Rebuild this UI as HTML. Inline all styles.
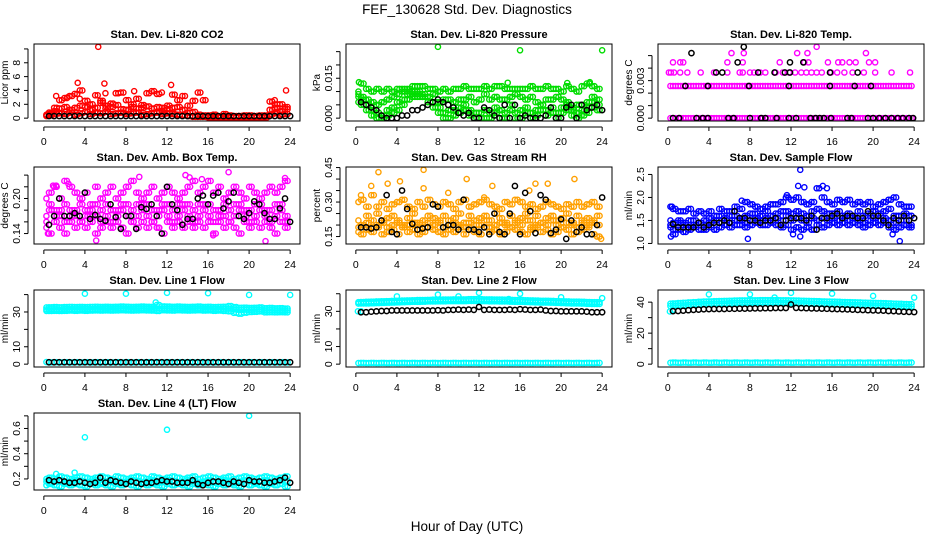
<!DOCTYPE html>
<html><head><meta charset="utf-8"><style>
html,body{margin:0;padding:0;background:#fff;}
svg{display:block;font-family:"Liberation Sans",Arial,sans-serif;}
</style></head><body>
<svg id="chart" width="936" height="540" viewBox="0 0 936 540">
<text x="467" y="14" text-anchor="middle" font-size="13.5">FEF_130628  Std. Dev. Diagnostics</text>
<text x="467" y="531" text-anchor="middle" font-size="13.5">Hour of Day (UTC)</text>
</svg>
<script>
// ---------- DATA ----------
const xTicks=[0,4,8,12,16,20,24];
const xTickLabels=["0","4","8","12","16","20","24"];
// CO2 (ppm)
const co2Hi=[0.5,0.8,1.5,2.6,2.9,3.2,3.5,4.0,2.5,2.0,3.3,2.5,1.8,2.1,3.6,3.7,2.6,2.0,2.8,1.9,3.6,3.9,3.5,1.5,1.8,3.4,2.6,3.2,1.8,2.5,3.7,2.6,0.4,0.5,0.3,0.6,0.4,0.3,0.3,0.4,0.4,0.3,0.4,0.4,2.4,2.0,2.0,1.6];
const co2Mid=[0.4,0.6,1.0,1.4,1.6,1.2,1.5,1.8,1.6,1.2,1.5,2.2,1.4,1.6,1.9,1.3,1.2,1.6,1.4,1.5,1.7,1.4,1.6,1.1,1.3,1.5,1.6,1.2,0.8,0.9,0.5,0.4,0.2,0.3,0.2,0.3,0.2,0.2,0.3,0.2,0.2,0.3,0.2,0.3,1.2,1.5,1.0,1.3];
const co2Lo=[0.3,0.4,0.6,0.7,0.6,0.8,0.5,0.7,0.9,0.6,0.8,0.7,0.9,0.6,0.7,0.8,0.6,0.7,0.8,0.5,0.6,0.7,0.8,0.6,0.7,0.6,0.5,0.4,0.3,0.2,0.2,0.2,0.1,0.1,0.1,0.1,0.1,0.1,0.1,0.1,0.1,0.1,0.1,0.1,0.5,0.7,0.5,0.6];
const co2OutX=[5.3,3.3,5.9,12.4,23.6,1.2,2.3,8.8,11.5,3.5,6.0,22.5];
const co2OutY=[10.3,5.1,5.0,4.8,4.0,3.2,3.0,3.9,3.7,2.8,3.6,2.6];
const co2Black=[0.3,0.3,0.3,0.3,0.3,0.3,0.3,0.3,0.3,0.3,0.3,0.3,0.3,0.3,0.3,0.3,0.3,0.3,0.3,0.3,0.3,0.3,0.3,0.3,0.3,0.3,0.3,0.3,0.3,0.3,0.3,0.3,0.3,0.3,0.3,0.3,0.3,0.3,0.3,0.3,0.3,0.3,0.3,0.3,0.3,0.3,0.3,0.3];
// Pressure (x0.001 kPa)
const prHi=[10,13,11,10,11,10,11,10,11,11,11,12,12,12,11,11,10,11,10,11,11,12,11,11,11,12,11,12,12,11,11,11,11,11,12,11,11,12,11,11,10,12,11,10,12,13,12,11];
const prMid=[8,8,7,6,5,6,7,8,9,10,10,9,8,8,8,9,6,7,7,6,7,7,8,6,7,9,7,8,7,7,8,9,8,7,8,6,5,7,7,8,7,6,4,5,5,6,8,7];
const prLo=[6,5,3,1,0,0,1,2,3,5,7,8,9,8,6,4,2,0,0,1,2,3,1,0,0,0,0,2,0,0,3,0,0,2,0,1,3,1,2,0,2,3,1,0,1,2,4,3];
const prLo2=[9,7,5,3,2,1,3,4,6,7,9,10,10,9,8,6,4,2,3,3,4,5,3,2,2,3,2,4,3,2,5,2,3,4,2,3,5,3,4,2,4,5,3,2,3,4,6,5];
const prOutX=[8,16,24,0.3,14.8,20.6,22.8];
const prOutY=[26.8,25.5,25.5,13.5,13.3,13.2,13.5];
const prBlack=[6,5,4,3,1,0,0,0,1,1,3,3,4,5,6,7,6,5,4,2,1,2,0,0,4,3,1,0,5,0,5,0,1,0,0,0,1,4,0,0,4,5,0,5,3,4,5,3];
// Li-820 temperature (x0.001 C)
const tpBase=[0,0,0,0,0,0,0,0,0,0,0,0,0,0,0,0,0,0,0,0,0,0,0,0,0,0,0,0,0,0,0,0,0,0,0,0,0,0,0,0,0,0,0,0,0,0,0,0];
const tpMidLine=[2.57,2.57,2.57,2.57,2.57,2.57,2.57,2.57,2.57,2.57,2.57,2.57,2.57,2.57,2.57,2.57,2.57,2.57,2.57,2.57,2.57,2.57,2.57,2.57,2.57,2.57,2.57,2.57,2.57,2.57,2.57,2.57,2.57,2.57,2.57,2.57,2.57,2.57,2.57,2.57,2.57,2.57,2.57,2.57,2.57,2.57,2.57,2.57];
const tpMagX=[0.1,0.3,0.6,1.2,1.9,3.2,4.5,5.8,7.0,7.3,8.0,8.4,9.0,9.5,10.5,11.2,11.8,12.4,13.0,13.5,14.0,14.5,15.0,15.9,16.5,17.2,18.0,19.1,20.2,21.8,23.6,0.5,1.2,1.5,5.8,7.3,10.9,13.3,13.7,15.6,16.6,17.0,17.7,18.3,19.6,20.2,6.2,7.4,12.6,13.6,19.3,14.5];
const tpMagY=[3.65,3.65,3.65,3.65,3.65,3.65,3.65,3.65,3.65,3.65,3.65,3.65,3.65,3.65,3.65,3.65,3.65,3.65,3.65,3.65,3.65,3.65,3.65,3.65,3.65,3.65,3.65,3.65,3.65,3.65,3.65,4.46,4.46,4.46,4.46,4.46,4.46,4.46,4.46,4.46,4.46,4.46,4.46,4.46,4.46,4.46,5.2,5.2,5.2,5.2,5.2,5.7];
const tpBlkX=[0.5,1.1,2.8,3.4,3.9,5.9,6.4,8.0,9.1,9.5,10.6,11.8,12.5,13.9,14.4,14.8,15.2,15.9,17.5,17.9,19.5,20.0,20.6,21.2,21.8,22.4,22.9,23.5,23.9,1.7,3.9,7.9,11.8,15.8,18.2,19.8,4.7,5.3,8.8,10.4,11.4,11.9,15.8,18.5,6.8,11.9,13.2,2.3,7.4];
const tpBlkY=[0,0,0,0,0,0,0,0,0,0,0,0,0,0,0,0,0,0,0,0,0,0,0,0,0,0,0,0,0,2.57,2.57,2.57,2.57,2.57,2.57,2.57,3.65,3.65,3.65,3.65,3.65,3.65,3.65,3.65,4.46,4.46,4.46,5.2,5.7];
// Amb box temp
const btHi=[0.20,0.21,0.22,0.20,0.23,0.22,0.21,0.20,0.21,0.19,0.22,0.20,0.21,0.22,0.20,0.21,0.22,0.23,0.21,0.20,0.21,0.22,0.20,0.21,0.22,0.21,0.20,0.21,0.22,0.23,0.21,0.22,0.23,0.21,0.22,0.20,0.21,0.22,0.21,0.20,0.22,0.21,0.20,0.21,0.22,0.21,0.22,0.23];
const btMid=[0.17,0.18,0.17,0.18,0.19,0.17,0.18,0.19,0.17,0.18,0.17,0.18,0.19,0.18,0.17,0.18,0.19,0.18,0.19,0.18,0.19,0.18,0.17,0.18,0.19,0.18,0.19,0.18,0.19,0.18,0.19,0.18,0.19,0.18,0.17,0.19,0.18,0.19,0.18,0.17,0.18,0.19,0.18,0.17,0.18,0.19,0.18,0.17];
const btLo=[0.15,0.14,0.16,0.15,0.14,0.16,0.15,0.16,0.15,0.16,0.14,0.15,0.16,0.15,0.16,0.15,0.14,0.16,0.15,0.16,0.15,0.16,0.15,0.14,0.16,0.15,0.16,0.15,0.16,0.15,0.16,0.15,0.16,0.14,0.16,0.15,0.16,0.15,0.14,0.16,0.15,0.16,0.15,0.16,0.15,0.14,0.16,0.15];
const btMid2=[0.16,0.19,0.18,0.17,0.16,0.18,0.17,0.16,0.18,0.17,0.19,0.16,0.17,0.16,0.18,0.19,0.17,0.16,0.17,0.19,0.17,0.16,0.18,0.19,0.17,0.16,0.17,0.19,0.17,0.16,0.17,0.19,0.17,0.16,0.18,0.17,0.16,0.17,0.19,0.18,0.16,0.17,0.19,0.18,0.16,0.17,0.19,0.16];
const btOutX=[5.1,21.6,13.8,18.0,23.5,14.2,1.2,0.9,9.3,15.4,2.4,0.4,16.5,11.2];
const btOutY=[0.128,0.127,0.240,0.245,0.235,0.236,0.222,0.222,0.237,0.233,0.225,0.140,0.137,0.150];
const btBlack=[0.155,0.17,0.20,0.17,0.17,0.175,0.17,0.21,0.165,0.172,0.165,0.162,0.19,0.168,0.148,0.17,0.17,0.148,0.185,0.182,0.19,0.17,0.14,0.22,0.19,0.18,0.155,0.165,0.165,0.20,0.205,0.19,0.205,0.21,0.183,0.195,0.21,0.17,0.165,0.175,0.195,0.19,0.175,0.165,0.165,0.183,0.20,0.16];
// Gas stream RH
const rhHi=[0.30,0.31,0.28,0.33,0.28,0.30,0.27,0.29,0.30,0.31,0.28,0.27,0.30,0.28,0.31,0.29,0.28,0.30,0.29,0.27,0.30,0.31,0.28,0.29,0.30,0.31,0.29,0.28,0.27,0.30,0.29,0.31,0.30,0.28,0.29,0.27,0.28,0.30,0.29,0.28,0.27,0.29,0.28,0.30,0.28,0.29,0.30,0.28];
const rhMid=[0.22,0.20,0.24,0.22,0.25,0.21,0.23,0.24,0.22,0.20,0.23,0.25,0.21,0.22,0.24,0.23,0.21,0.24,0.22,0.23,0.25,0.21,0.24,0.22,0.23,0.24,0.22,0.25,0.23,0.21,0.24,0.22,0.23,0.25,0.22,0.24,0.21,0.23,0.24,0.22,0.23,0.25,0.21,0.24,0.22,0.23,0.21,0.24];
const rhLo=[0.17,0.16,0.18,0.17,0.19,0.16,0.17,0.18,0.16,0.19,0.17,0.18,0.16,0.17,0.19,0.18,0.17,0.16,0.18,0.17,0.19,0.16,0.18,0.17,0.16,0.19,0.17,0.18,0.16,0.17,0.19,0.18,0.17,0.16,0.18,0.19,0.17,0.18,0.16,0.17,0.19,0.18,0.16,0.17,0.18,0.19,0.16,0.15];
const rhMid2=[0.19,0.20,0.21,0.19,0.20,0.22,0.19,0.20,0.21,0.19,0.20,0.21,0.20,0.19,0.21,0.20,0.22,0.19,0.20,0.21,0.20,0.19,0.21,0.20,0.20,0.22,0.19,0.20,0.21,0.20,0.19,0.21,0.20,0.22,0.19,0.20,0.21,0.20,0.22,0.20,0.19,0.21,0.20,0.19,0.21,0.20,0.22,0.20];
const rhOutX=[2.2,6.6,1.5,3.1,4.3,10.8,13.3,17.5,18.7,21.3,23.9,6.6,0.5,9.0,12.5,16.9];
const rhOutY=[0.43,0.44,0.37,0.38,0.39,0.40,0.37,0.38,0.38,0.40,0.14,0.36,0.33,0.34,0.32,0.35];
const rhBlack=[0.19,0.19,0.185,0.19,0.22,0.33,0.17,0.16,0.35,0.27,0.205,0.18,0.185,0.19,0.29,0.28,0.19,0.2,0.2,0.18,0.31,0.18,0.18,0.17,0.19,0.16,0.25,0.17,0.16,0.25,0.37,0.16,0.34,0.26,0.165,0.33,0.31,0.165,0.18,0.225,0.14,0.22,0.17,0.19,0.16,0.16,0.2,0.32];
// Sample flow
const sfHi=[1.8,1.75,1.7,1.7,1.75,1.65,1.7,1.65,1.7,1.6,1.75,1.7,1.7,1.8,1.75,1.9,1.85,1.8,1.75,1.8,1.85,1.85,1.9,2.0,1.95,2.0,1.9,1.85,1.9,2.2,2.0,1.9,1.85,1.95,1.9,1.95,1.85,1.9,1.85,1.9,1.8,1.85,1.9,1.95,2.0,1.85,1.8,1.8];
const sfMid=[1.5,1.45,1.5,1.45,1.5,1.5,1.45,1.5,1.55,1.5,1.6,1.55,1.6,1.6,1.55,1.6,1.65,1.65,1.6,1.7,1.6,1.65,1.7,1.7,1.65,1.7,1.65,1.6,1.7,1.75,1.7,1.65,1.65,1.7,1.6,1.65,1.6,1.7,1.6,1.65,1.7,1.65,1.7,1.75,1.6,1.6,1.65,1.6];
const sfLo=[1.35,1.3,1.3,1.25,1.3,1.35,1.3,1.3,1.35,1.3,1.35,1.4,1.35,1.4,1.4,1.35,1.4,1.45,1.4,1.4,1.45,1.4,1.35,1.4,1.3,1.35,1.3,1.35,1.3,1.4,1.35,1.4,1.45,1.4,1.45,1.4,1.45,1.4,1.35,1.4,1.45,1.4,1.45,1.35,1.3,1.35,1.4,1.35];
const sfMid2=[1.4,1.2,1.45,1.4,1.35,1.4,1.45,1.4,1.45,1.5,1.45,1.5,1.45,1.5,1.5,1.45,1.5,1.55,1.5,1.55,1.5,1.55,1.5,1.6,1.5,1.55,1.5,1.45,1.55,1.5,1.55,1.5,1.55,1.5,1.55,1.5,1.55,1.5,1.45,1.5,1.55,1.5,1.55,1.5,1.45,1.5,1.5,1.4];
const sfOutX=[12.9,12.7,13.3,15.1,15.5,7.8,12.9,22.6,0.4,0.3,12.2,21.9,7.2,11.6];
const sfOutY=[2.6,2.25,2.22,2.25,2.2,1.1,1.15,1.05,1.8,1.15,1.2,1.2,1.93,2.05];
const sfBlack=[1.42,1.35,1.35,1.35,1.35,1.45,1.35,1.4,1.45,1.45,1.5,1.45,1.7,1.55,1.55,1.5,1.5,1.45,1.5,1.5,1.55,1.4,1.5,1.55,1.55,1.55,1.5,1.6,1.3,1.55,1.55,1.6,1.65,1.55,1.6,1.6,1.55,1.55,1.7,1.6,1.6,1.5,1.4,1.55,1.5,1.6,1.5,1.55];
// Line 1 flow
const l1Hi=[32.6,32.7,32.8,32.7,32.8,32.9,32.8,32.9,32.8,32.9,33.0,32.9,33.0,32.9,33.0,33.1,33.0,32.9,33.0,33.1,33.0,32.9,34.0,33.2,33.1,33.0,33.1,33.0,32.9,33.0,33.1,32.9,33.0,32.8,32.9,33.0,33.4,32.8,32.4,32.5,32.3,32.4,32.6,32.2,32.3,32.1,32.2,32.0];
const l1Mid=[31.5,31.6,31.6,31.5,31.7,31.7,31.6,31.8,31.7,31.7,31.8,31.8,31.9,31.8,31.9,31.9,31.8,31.8,31.9,32.0,31.9,31.8,32.0,32.0,31.9,31.9,32.0,31.9,31.8,31.9,31.9,31.8,31.8,31.7,31.7,31.8,31.9,31.5,31.2,31.3,31.2,31.3,31.4,31.0,31.1,31.0,31.0,30.9];
const l1Lo=[30.6,30.6,30.7,30.6,30.7,30.8,30.7,30.8,30.7,30.8,30.9,30.8,30.9,30.8,30.9,31.0,30.9,30.8,30.9,31.0,30.9,30.8,30.6,31.0,30.9,30.8,31.0,30.9,30.8,30.9,31.0,30.8,30.9,30.7,30.8,30.6,30.4,29.5,29.0,29.6,30.0,30.1,30.3,29.8,29.9,29.8,29.9,29.8];
const l1Base=[1.2,1.0,1.1,1.0,1.1,1.0,1.1,1.0,1.1,1.0,1.1,1.0,1.1,1.0,1.1,1.0,1.1,1.0,1.1,1.0,1.1,1.0,1.1,1.0,1.1,1.0,1.1,1.0,1.1,1.0,1.1,1.0,1.1,1.0,1.1,1.0,1.1,1.0,1.1,1.0,1.1,1.0,1.1,1.0,1.1,1.0,1.1,1.0];
const l1OutX=[4,8,12,16,20,24,10.9];
const l1OutY=[40.5,40.5,41,40.8,39.8,39.8,35.5];
const l1Black=[1.1,1.1,1.1,1.1,1.1,1.1,1.1,1.1,1.1,1.1,1.1,1.1,1.1,1.1,1.1,1.1,1.1,1.1,1.1,1.1,1.1,1.1,1.1,1.1,1.1,1.1,1.1,1.1,1.1,1.1,1.1,1.1,1.1,1.1,1.1,1.1,1.1,1.1,1.1,1.1,1.1,1.1,1.1,1.1,1.1,1.1,1.1,1.1];
// Line 2 flow
const l2Hi=[35.2,35.3,35.4,35.5,35.6,35.7,35.8,35.9,36.0,36.1,36.2,36.3,36.4,36.4,36.5,36.6,36.6,36.7,36.7,36.8,36.8,36.8,36.9,36.9,36.9,36.8,36.8,36.7,36.7,36.6,36.5,36.4,36.4,36.3,36.2,36.1,36.0,36.0,35.9,35.8,35.7,35.6,35.5,35.5,35.4,35.3,35.2,35.2];
const l2Lo=[34.4,34.5,34.5,34.6,34.7,34.8,34.9,35.0,35.1,35.2,35.3,35.4,35.4,35.5,35.6,35.6,35.7,35.7,35.8,35.8,35.8,35.8,35.9,35.9,35.8,35.8,35.7,35.7,35.6,35.6,35.5,35.4,35.4,35.3,35.2,35.1,35.0,35.0,34.9,34.8,34.7,34.6,34.5,34.5,34.4,34.3,34.2,34.2];
const l2Base=[0.6,0.7,0.6,0.7,0.6,0.7,0.6,0.7,0.6,0.7,0.6,0.7,0.6,0.7,0.6,0.7,0.6,0.7,0.6,0.7,0.6,0.7,0.6,0.7,0.6,0.7,0.6,0.7,0.6,0.7,0.6,0.7,0.6,0.7,0.6,0.7,0.6,0.7,0.6,0.7,0.6,0.7,0.6,0.7,0.6,0.7,0.6,0.7];
const l2OutX=[4,8,12,16,20,24,10,14.9,0.2,0.5];
const l2OutY=[38.5,39.5,40.5,40,38,37.5,38.5,37,30,30];
const l2Black=[29.5,29.5,29.8,30,30.2,30.2,30.5,30.5,30.5,30.5,30.5,30.5,30.5,30.5,30.5,30.6,30.5,30.8,30.8,31,30.8,31,30.8,32.5,30.8,31,30.8,30.8,30.8,31,30.8,31.2,31,30.8,30.8,31,30.5,30.2,30.2,30,30,30,30,30,29.8,29.5,29.5,29.5];
// Line 3 flow
const l3Hi=[39.0,39.2,39.4,39.6,39.8,40.0,40.2,40.4,40.5,40.6,40.7,40.8,40.9,41.0,41.1,41.1,41.2,41.2,41.3,41.3,41.3,41.3,41.2,41.2,41.1,41.0,40.9,40.8,40.7,40.6,40.5,40.4,40.3,40.2,40.1,40.0,39.9,39.8,39.7,39.6,39.5,39.4,39.3,39.2,39.0,38.9,38.8,38.7];
const l3Lo=[37.5,37.7,37.9,38.0,38.2,38.4,38.6,38.8,38.9,39.0,39.1,39.2,39.3,39.4,39.5,39.5,39.6,39.6,39.7,39.7,39.7,39.7,39.6,39.6,39.5,39.4,39.3,39.2,39.1,39.0,38.9,38.8,38.7,38.6,38.5,38.4,38.3,38.2,38.1,38.0,37.9,37.8,37.7,37.6,37.4,37.3,37.2,37.1];
const l3Base=[0.9,1.0,0.9,1.0,0.9,1.0,0.9,1.0,0.9,1.0,0.9,1.0,0.9,1.0,0.9,1.0,0.9,1.0,0.9,1.0,0.9,1.0,0.9,1.0,0.9,1.0,0.9,1.0,0.9,1.0,0.9,1.0,0.9,1.0,0.9,1.0,0.9,1.0,0.9,1.0,0.9,1.0,0.9,1.0,0.9,1.0,0.9,1.0];
const l3OutX=[4,8,10.4,12,16,20,24,0.2,0.5];
const l3OutY=[45,45,43,46,45.5,44,43,34,35];
const l3Black=[34.2,34.3,34.5,34.8,35.0,35.2,35.4,35.5,35.6,35.6,35.6,35.7,35.7,35.8,35.8,35.9,36.0,36.0,36.1,36.1,36.2,36.2,36.2,38.5,36.3,36.2,36.1,36.0,35.9,35.8,35.7,35.6,35.5,35.4,35.3,35.2,35.0,34.9,34.8,34.7,34.6,34.5,34.3,34.2,34.0,33.8,33.7,33.6];
// Line 4 flow
const l4Hi=[0.20,0.21,0.20,0.22,0.21,0.20,0.21,0.22,0.21,0.20,0.21,0.22,0.21,0.20,0.22,0.21,0.20,0.21,0.22,0.21,0.20,0.22,0.21,0.20,0.21,0.22,0.21,0.20,0.21,0.22,0.20,0.21,0.22,0.21,0.20,0.21,0.22,0.20,0.21,0.22,0.21,0.20,0.21,0.22,0.21,0.20,0.21,0.22];
const l4Mid=[0.18,0.17,0.18,0.19,0.17,0.18,0.19,0.18,0.17,0.18,0.19,0.17,0.18,0.19,0.18,0.17,0.18,0.19,0.18,0.17,0.18,0.19,0.17,0.18,0.19,0.18,0.17,0.18,0.19,0.18,0.17,0.18,0.19,0.17,0.18,0.19,0.18,0.17,0.18,0.19,0.18,0.17,0.18,0.19,0.17,0.18,0.19,0.18];
const l4Lo=[0.15,0.16,0.15,0.14,0.16,0.15,0.16,0.15,0.14,0.16,0.15,0.16,0.15,0.14,0.16,0.15,0.16,0.15,0.14,0.16,0.15,0.16,0.15,0.14,0.16,0.15,0.16,0.15,0.14,0.16,0.15,0.16,0.15,0.14,0.16,0.15,0.16,0.15,0.14,0.16,0.15,0.16,0.15,0.14,0.16,0.15,0.16,0.14];
const l4OutX=[4,12,20,1.2,3.0];
const l4OutY=[0.53,0.59,0.70,0.24,0.25];
const l4Black=[0.19,0.18,0.19,0.18,0.17,0.17,0.18,0.17,0.16,0.17,0.21,0.17,0.19,0.18,0.17,0.16,0.18,0.17,0.16,0.17,0.17,0.18,0.19,0.18,0.18,0.17,0.17,0.17,0.19,0.16,0.15,0.17,0.18,0.18,0.17,0.16,0.18,0.17,0.16,0.19,0.18,0.18,0.17,0.17,0.18,0.19,0.21,0.17];

// ---------- PANELS ----------
const C='#00ffff';
const panels=[
 {col:0,row:0,title:"Stan. Dev. Li-820 CO2",ylab:"Licor ppm",y0:0,y1:10.3,ticks:[0,2,4,6,8,10],labs:["0","2","4","6","8",""],color:"#ff0000",series:[co2Lo,co2Mid,co2Hi],ox:co2OutX,oy:co2OutY,black:co2Black,name:"co2"},
 {col:1,row:0,title:"Stan. Dev. Li-820 Pressure",ylab:"kPa",y0:0,y1:26.8,ticks:[0,5,10,15,20,25],labs:["0.000","","","0.015","",""],color:"#00dd00",series:[prLo,prLo2,prMid,prHi],ox:prOutX,oy:prOutY,black:prBlack,name:"pressure"},
 {col:2,row:0,title:"Stan. Dev. Li-820 Temp.",ylab:"degrees C",y0:0,y1:5.7,ticks:[0,1,2,3,4,5],labs:["0.000","","","0.003","",""],color:"#ff00ff",series:[tpBase,tpMidLine],ox:tpMagX,oy:tpMagY,bx:tpBlkX,by:tpBlkY,name:"li820-temp"},
 {col:0,row:1,title:"Stan. Dev. Amb. Box Temp.",ylab:"degrees C",y0:0.127,y1:0.249,ticks:[0.14,0.16,0.18,0.20,0.22,0.24],labs:["0.14","","","0.20","",""],color:"#ff00ff",series:[btLo,btMid,btMid2,btHi],ox:btOutX,oy:btOutY,black:btBlack,name:"box-temp"},
 {col:1,row:1,title:"Stan. Dev. Gas Stream RH",ylab:"percent",y0:0.13,y1:0.44,ticks:[0.15,0.20,0.25,0.30,0.35,0.40,0.45],labs:["0.15","","","0.30","","","0.45"],color:"#ffa000",series:[rhLo,rhMid2,rhMid,rhHi],ox:rhOutX,oy:rhOutY,black:rhBlack,name:"gas-rh"},
 {col:2,row:1,title:"Stan. Dev. Sample Flow",ylab:"ml/min",y0:1.05,y1:2.6,ticks:[1.0,1.5,2.0,2.5],labs:["1.0","1.5","2.0","2.5"],color:"#0000ff",series:[sfLo,sfMid2,sfMid,sfHi],ox:sfOutX,oy:sfOutY,black:sfBlack,name:"sample-flow"},
 {col:0,row:2,title:"Stan. Dev. Line 1 Flow",ylab:"ml/min",y0:0,y1:41,ticks:[0,10,20,30,40],labs:["0","10","","30",""],color:C,series:[l1Base,l1Lo,l1Mid,l1Hi],ox:l1OutX,oy:l1OutY,black:l1Black,name:"line1-flow",noCross:true},
 {col:1,row:2,title:"Stan. Dev. Line 2 Flow",ylab:"ml/min",y0:0,y1:40.5,ticks:[0,10,20,30,40],labs:["0","10","","30",""],color:C,series:[l2Base,l2Lo,l2Hi],ox:l2OutX,oy:l2OutY,black:l2Black,name:"line2-flow",noCross:true},
 {col:2,row:2,title:"Stan. Dev. Line 3 Flow",ylab:"ml/min",y0:0,y1:46,ticks:[0,10,20,30,40],labs:["0","","20","","40"],color:C,series:[l3Base,l3Lo,l3Hi],ox:l3OutX,oy:l3OutY,black:l3Black,name:"line3-flow",noCross:true},
 {col:0,row:3,title:"Stan. Dev. Line 4 (LT) Flow",ylab:"ml/min",y0:0.135,y1:0.70,ticks:[0.2,0.3,0.4,0.5,0.6,0.7],labs:["0.2","","0.4","","0.6",""],color:C,series:[l4Lo,l4Mid,l4Hi],ox:l4OutX,oy:l4OutY,black:l4Black,name:"line4-flow"}
];

const NS="http://www.w3.org/2000/svg";
const svg=document.getElementById('chart');
function mk(tag,attrs,parent){const e=document.createElementNS(NS,tag);for(const k in attrs)e.setAttribute(k,attrs[k]);(parent||svg).appendChild(e);return e;}
const BW=266,BH=77;
panels.forEach(p=>{
 const bx=34+312*p.col, by=44+123*p.row;
 const g=mk('g',{});
 
 
 const xs=v=>bx+(v+0.96)/25.92*BW;
 const pad=(p.y1-p.y0)*0.04;
 const ys=v=>by+BH-(v-(p.y0-pad))/((p.y1+pad)-(p.y0-pad))*BH;
 const t=mk('text',{x:bx+BW/2,y:by-6,'text-anchor':'middle','font-size':'11','font-weight':'bold'},g);
 t.textContent=p.title;
 
 
 const pts=mk('g',{fill:'none',stroke:p.color,'stroke-width':'1.4'},g);
 
 
 const n=p.series.length;
 p.series.forEach((arr,k)=>{arr.forEach((v,i)=>{const h=0.25+0.5*i;
   const c=mk('circle',{cx:xs(h),cy:ys(v),r:2.6},pts);
   
   
   if(i<arr.length-1){
     const src=(p.noCross||n<2)?arr:p.series[(k+1)%n];
     const v2=src[i+1];
     const c2=mk('circle',{cx:xs(h+0.25),cy:ys(v2),r:2.6},pts);
     
     }
 });});
 p.ox.forEach((x,i)=>{const c=mk('circle',{cx:xs(x),cy:ys(p.oy[i]),r:2.6},pts);
   
   });
 const bk=mk('g',{fill:'none',stroke:'#000','stroke-width':'1.5'},g);
 
 
 if(p.black){p.black.forEach((v,i)=>{const c=mk('circle',{cx:xs(0.5+0.5*i),cy:ys(v),r:2.6},bk);
   
   });}
 if(p.bx){p.bx.forEach((x,i)=>{const c=mk('circle',{cx:xs(x),cy:ys(p.by[i]),r:2.6},bk);
   
   });}
 const r=mk('rect',{x:bx,y:by,width:BW,height:BH,fill:'none',stroke:'#000','stroke-width':'1'},g);
 
 
 const xa=mk('g',{},g);
 
 
 mk('line',{x1:xs(0),x2:xs(24),y1:by+BH+6,y2:by+BH+6,stroke:'#000'},xa);
 xTicks.forEach((v,i)=>{mk('line',{x1:xs(v),x2:xs(v),y1:by+BH+6,y2:by+BH+10,stroke:'#000'},xa);
  const tl=mk('text',{x:xs(v),y:by+BH+24,'text-anchor':'middle','font-size':'10.5'},xa);
  tl.textContent=xTickLabels[i];
  
  });
 const ya=mk('g',{},g);
 
 
 const tv=p.ticks.filter(v=>ys(v)>=by-1&&ys(v)<=by+BH+1);
 mk('line',{x1:bx-6,x2:bx-6,y1:ys(tv[0]),y2:ys(tv[tv.length-1]),stroke:'#000'},ya);
 p.ticks.forEach((v,i)=>{const y=ys(v);if(y<by-1||y>by+BH+1)return;
  mk('line',{x1:bx-10,x2:bx-6,y1:y,y2:y,stroke:'#000'},ya);
  if(p.labs[i]){const tl=mk('text',{x:bx-14,y:y,'text-anchor':'middle','font-size':'10.5',transform:`rotate(-90 ${bx-14} ${y})`},ya);
   tl.textContent=p.labs[i];
   
   }});
 const yl=mk('text',{x:bx-26,y:by+BH/2,'text-anchor':'middle','font-size':'10',transform:`rotate(-90 ${bx-26} ${by+BH/2})`},ya);
 yl.textContent=p.ylab;
 
 
});
</script>
</body></html>
